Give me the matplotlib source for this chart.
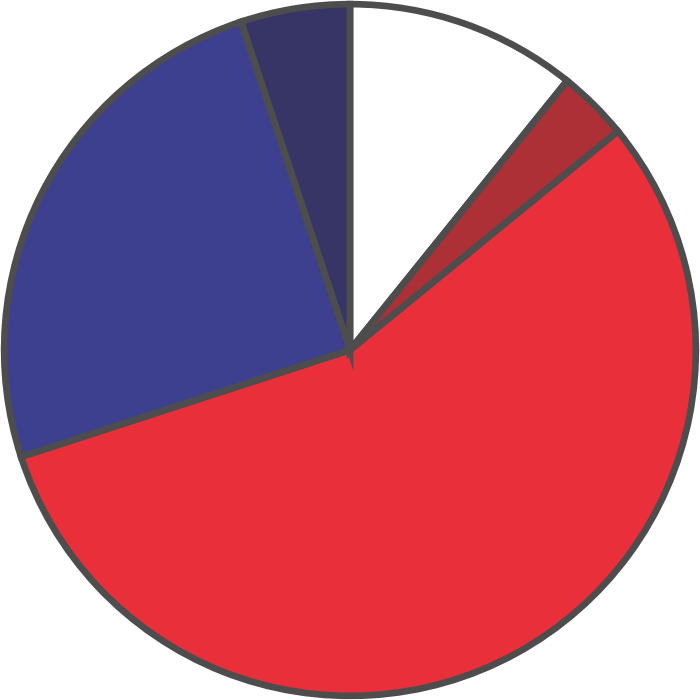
import matplotlib
matplotlib.use("Agg")
import matplotlib.pyplot as plt

labels = ["White", "Dark red", "Red", "Blue", "Navy"]
values = [10.8, 3.3, 55.9, 24.9, 5.1]
colors = ["#ffffff", "#ad3036", "#e9303a", "#3d3f8f", "#363566"]

fig = plt.figure(figsize=(7, 7), dpi=100)
ax = fig.add_axes([0, 0, 1, 1])
ax.pie(values, colors=colors, startangle=90, counterclock=False,
       radius=1.0, wedgeprops=dict(linewidth=0))
wedges, _ = ax.pie(values, startangle=90, counterclock=False, radius=1.0,
                   wedgeprops=dict(facecolor="none", edgecolor="#4d4d4d",
                                   linewidth=4.8, joinstyle="miter"))
ax.set_xlim(-1.012, 1.012)
ax.set_ylim(-1.012, 1.012)
ax.set_aspect("equal")
ax.axis("off")
fig.savefig("out.png", dpi=100, facecolor="white")
